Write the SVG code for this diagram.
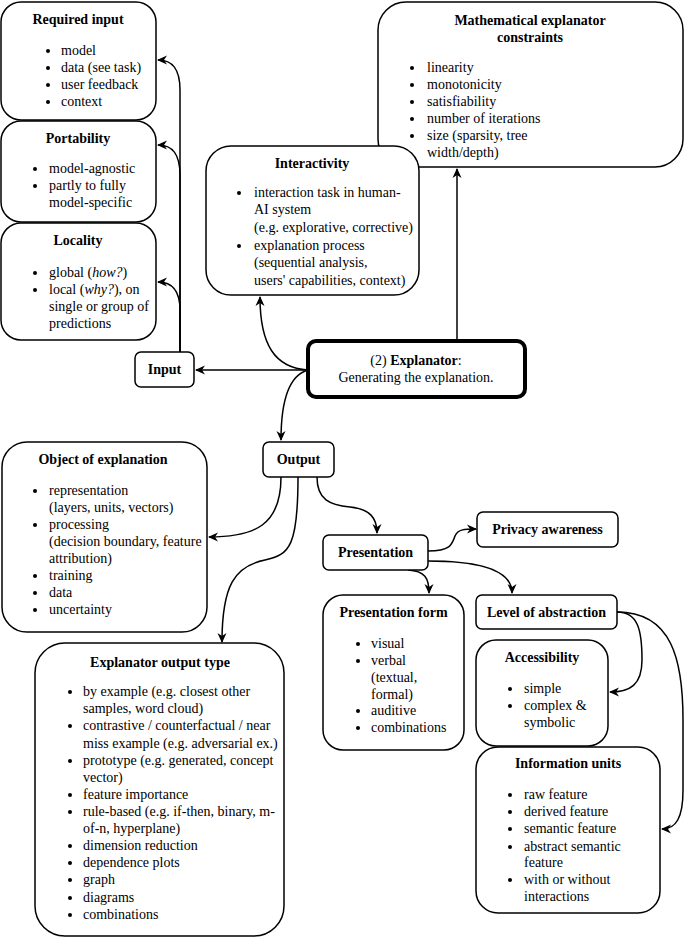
<svg xmlns="http://www.w3.org/2000/svg" width="685" height="938" viewBox="0 0 685 938">
<style>
.box{fill:#fff;stroke:#000;stroke-width:1.5}
.t{font-family:"Liberation Serif","Times New Roman",serif;font-size:14px;fill:#000}
.h{font-family:"Liberation Serif","Times New Roman",serif;font-size:14px;font-weight:bold;fill:#000;text-anchor:middle}
.c{fill:none;stroke:#000;stroke-width:1.5;marker-end:url(#ar)}
.b{fill:#000}
</style>
<defs>
<marker id="ar" viewBox="0 0 10 10" markerWidth="10" markerHeight="10" refX="9" refY="5" orient="auto" markerUnits="userSpaceOnUse">
<path d="M0,0.5 L10,5 L0,9.5 L3,5 Z" fill="#000"/>
</marker>
</defs>
<g id="connectors">
<path class="c" d="M180 352 L180 90 C180 68 172 60 158 60"/>
<path class="c" d="M180 352 L180 175 C180 153 172 145 158 145"/>
<path class="c" d="M180 352 L180 310 C180 290 172 282 158 282"/>
<path class="c" d="M308 370 L196 370"/>
<path class="c" d="M308 370 C275 368 260 345 260 297"/>
<path class="c" d="M308 370 C290 375 281 400 281 440"/>
<path class="c" d="M457 341 L457 169"/>
<path class="c" d="M281 477 C281 525 255 537 209 537"/>
<path class="c" d="M298 477 C298 545 290 555 265 560 C235 566 222 585 222 642"/>
<path class="c" d="M317 477 C317 500 330 505 350 507 C370 509 377 518 377 533"/>
<path class="c" d="M428 551 C450 551 452 545 455 536 C458 529 465 529 476 529"/>
<path class="c" d="M408 570 C425 571 429 578 429 593"/>
<path class="c" d="M428 561 C480 561 512 570 512 593"/>
<path class="c" d="M617 612 C638 612 642 630 642 660 C642 685 630 692 610 692"/>
<path class="c" d="M617 612 C672 612 683 660 683 720 L683 790 C683 818 676 829 662 829"/>
</g>
<g id="required-input">
<rect class="box" x="1" y="2" width="155" height="118" rx="20"/>
<text class="h" x="78" y="24">Required input</text>
<circle class="b" cx="48" cy="51" r="2"/><text class="t" x="61" y="55">model</text>
<circle class="b" cx="48" cy="68" r="2"/><text class="t" x="61" y="72">data (see task)</text>
<circle class="b" cx="48" cy="85" r="2"/><text class="t" x="61" y="89">user feedback</text>
<circle class="b" cx="48" cy="102" r="2"/><text class="t" x="61" y="106">context</text>
</g>
<g id="portability">
<rect class="box" x="1" y="121" width="155" height="101" rx="20"/>
<text class="h" x="78" y="143">Portability</text>
<circle class="b" cx="35" cy="169" r="2"/><text class="t" x="49" y="173">model-agnostic</text>
<circle class="b" cx="35" cy="186" r="2"/><text class="t" x="49" y="190">partly to fully</text>
<text class="t" x="49" y="207">model-specific</text>
</g>
<g id="locality">
<rect class="box" x="1" y="223" width="155" height="117" rx="20"/>
<text class="h" x="78" y="245">Locality</text>
<circle class="b" cx="35" cy="273" r="2"/><text class="t" x="49" y="277">global (<tspan font-style="italic">how?</tspan>)</text>
<circle class="b" cx="35" cy="290" r="2"/><text class="t" x="49" y="294">local (<tspan font-style="italic">why?</tspan>), on</text>
<text class="t" x="49" y="311">single or group of</text>
<text class="t" x="49" y="328">predictions</text>
</g>
<g id="math-constraints">
<rect class="box" x="378" y="2" width="305" height="165" rx="28"/>
<text class="h" x="530" y="25">Mathematical explanator</text>
<text class="h" x="530" y="42">constraints</text>
<circle class="b" cx="412" cy="68" r="2"/><text class="t" x="427" y="72">linearity</text>
<circle class="b" cx="412" cy="85" r="2"/><text class="t" x="427" y="89">monotonicity</text>
<circle class="b" cx="412" cy="102" r="2"/><text class="t" x="427" y="106">satisfiability</text>
<circle class="b" cx="412" cy="119" r="2"/><text class="t" x="427" y="123">number of iterations</text>
<circle class="b" cx="412" cy="136" r="2"/><text class="t" x="427" y="140">size (sparsity, tree</text>
<text class="t" x="427" y="157">width/depth)</text>
</g>
<g id="interactivity">
<rect class="box" x="206" y="146" width="213" height="149" rx="25"/>
<text class="h" x="312" y="168">Interactivity</text>
<circle class="b" cx="239" cy="193" r="2"/><text class="t" x="254" y="197">interaction task in human-</text>
<text class="t" x="254" y="214">AI system</text>
<text class="t" x="254" y="232">(e.g. explorative, corrective)</text>
<circle class="b" cx="239" cy="246" r="2"/><text class="t" x="254" y="250">explanation process</text>
<text class="t" x="254" y="267">(sequential analysis,</text>
<text class="t" x="254" y="285">users' capabilities, context)</text>
</g>
<g id="input">
<rect class="box" x="135" y="352" width="59" height="35" rx="6"/>
<text class="h" x="164.5" y="374">Input</text>
</g>
<g id="explanator">
<rect x="308" y="341" width="217" height="56" rx="8" fill="#fff" stroke="#000" stroke-width="4"/>
<text class="t" x="416" y="365" text-anchor="middle">(2) <tspan font-weight="bold">Explanator</tspan>:</text>
<text class="t" x="416" y="382" text-anchor="middle">Generating the explanation.</text>
</g>
<g id="output">
<rect class="box" x="263" y="442" width="71" height="35" rx="6"/>
<text class="h" x="298.5" y="464">Output</text>
</g>
<g id="object-of-explanation">
<rect class="box" x="2" y="442" width="205" height="190" rx="25"/>
<text class="h" x="103" y="464">Object of explanation</text>
<circle class="b" cx="35" cy="491" r="2"/><text class="t" x="49" y="495">representation</text>
<text class="t" x="49" y="512">(layers, units, vectors)</text>
<circle class="b" cx="35" cy="525" r="2"/><text class="t" x="49" y="529">processing</text>
<text class="t" x="49" y="546">(decision boundary, feature</text>
<text class="t" x="49" y="563">attribution)</text>
<circle class="b" cx="35" cy="576" r="2"/><text class="t" x="49" y="580">training</text>
<circle class="b" cx="35" cy="593" r="2"/><text class="t" x="49" y="597">data</text>
<circle class="b" cx="35" cy="610" r="2"/><text class="t" x="49" y="614">uncertainty</text>
</g>
<g id="presentation">
<rect class="box" x="323" y="535" width="105" height="35" rx="6"/>
<text class="h" x="375.5" y="557">Presentation</text>
</g>
<g id="privacy-awareness">
<rect class="box" x="477" y="512" width="141" height="35" rx="6"/>
<text class="h" x="547.5" y="534">Privacy awareness</text>
</g>
<g id="presentation-form">
<rect class="box" x="323" y="595" width="141" height="155" rx="20"/>
<text class="h" x="393.5" y="617">Presentation form</text>
<circle class="b" cx="358" cy="644" r="2"/><text class="t" x="371" y="648">visual</text>
<circle class="b" cx="358" cy="661" r="2"/><text class="t" x="371" y="665">verbal</text>
<text class="t" x="371" y="682">(textual,</text>
<text class="t" x="371" y="699">formal)</text>
<circle class="b" cx="358" cy="711" r="2"/><text class="t" x="371" y="715">auditive</text>
<circle class="b" cx="358" cy="728" r="2"/><text class="t" x="371" y="732">combinations</text>
</g>
<g id="level-of-abstraction">
<rect class="box" x="476" y="595" width="141" height="34" rx="6"/>
<text class="h" x="546.5" y="617">Level of abstraction</text>
</g>
<g id="accessibility">
<rect class="box" x="476" y="640" width="132" height="106" rx="20"/>
<text class="h" x="542" y="662">Accessibility</text>
<circle class="b" cx="510" cy="689" r="2"/><text class="t" x="524" y="693">simple</text>
<circle class="b" cx="510" cy="706" r="2"/><text class="t" x="524" y="710">complex &amp;</text>
<text class="t" x="524" y="727">symbolic</text>
</g>
<g id="information-units">
<rect class="box" x="476" y="747" width="184" height="166" rx="22"/>
<text class="h" x="568" y="768">Information units</text>
<circle class="b" cx="510" cy="795" r="2"/><text class="t" x="524" y="799">raw feature</text>
<circle class="b" cx="510" cy="812" r="2"/><text class="t" x="524" y="816">derived feature</text>
<circle class="b" cx="510" cy="829" r="2"/><text class="t" x="524" y="833">semantic feature</text>
<circle class="b" cx="510" cy="847" r="2"/><text class="t" x="524" y="851">abstract semantic</text>
<text class="t" x="524" y="867">feature</text>
<circle class="b" cx="510" cy="880" r="2"/><text class="t" x="524" y="884">with or without</text>
<text class="t" x="524" y="901">interactions</text>
</g>
<g id="explanator-output-type">
<rect class="box" x="35" y="643" width="249" height="293" rx="30"/>
<text class="h" x="160" y="667">Explanator output type</text>
<circle class="b" cx="70" cy="692" r="2"/><text class="t" x="83" y="696">by example (e.g. closest other</text>
<text class="t" x="83" y="713">samples, word cloud)</text>
<circle class="b" cx="70" cy="726" r="2"/><text class="t" x="83" y="730">contrastive / counterfactual / near</text>
<text class="t" x="83" y="748">miss example (e.g. adversarial ex.)</text>
<circle class="b" cx="70" cy="761" r="2"/><text class="t" x="83" y="765">prototype (e.g. generated, concept</text>
<text class="t" x="83" y="782">vector)</text>
<circle class="b" cx="70" cy="795" r="2"/><text class="t" x="83" y="799">feature importance</text>
<circle class="b" cx="70" cy="812" r="2"/><text class="t" x="83" y="816">rule-based (e.g. if-then, binary, m-</text>
<text class="t" x="83" y="833">of-n, hyperplane)</text>
<circle class="b" cx="70" cy="846" r="2"/><text class="t" x="83" y="850">dimension reduction</text>
<circle class="b" cx="70" cy="863" r="2"/><text class="t" x="83" y="867">dependence plots</text>
<circle class="b" cx="70" cy="880" r="2"/><text class="t" x="83" y="884">graph</text>
<circle class="b" cx="70" cy="898" r="2"/><text class="t" x="83" y="902">diagrams</text>
<circle class="b" cx="70" cy="915" r="2"/><text class="t" x="83" y="919">combinations</text>
</g>
</svg>
